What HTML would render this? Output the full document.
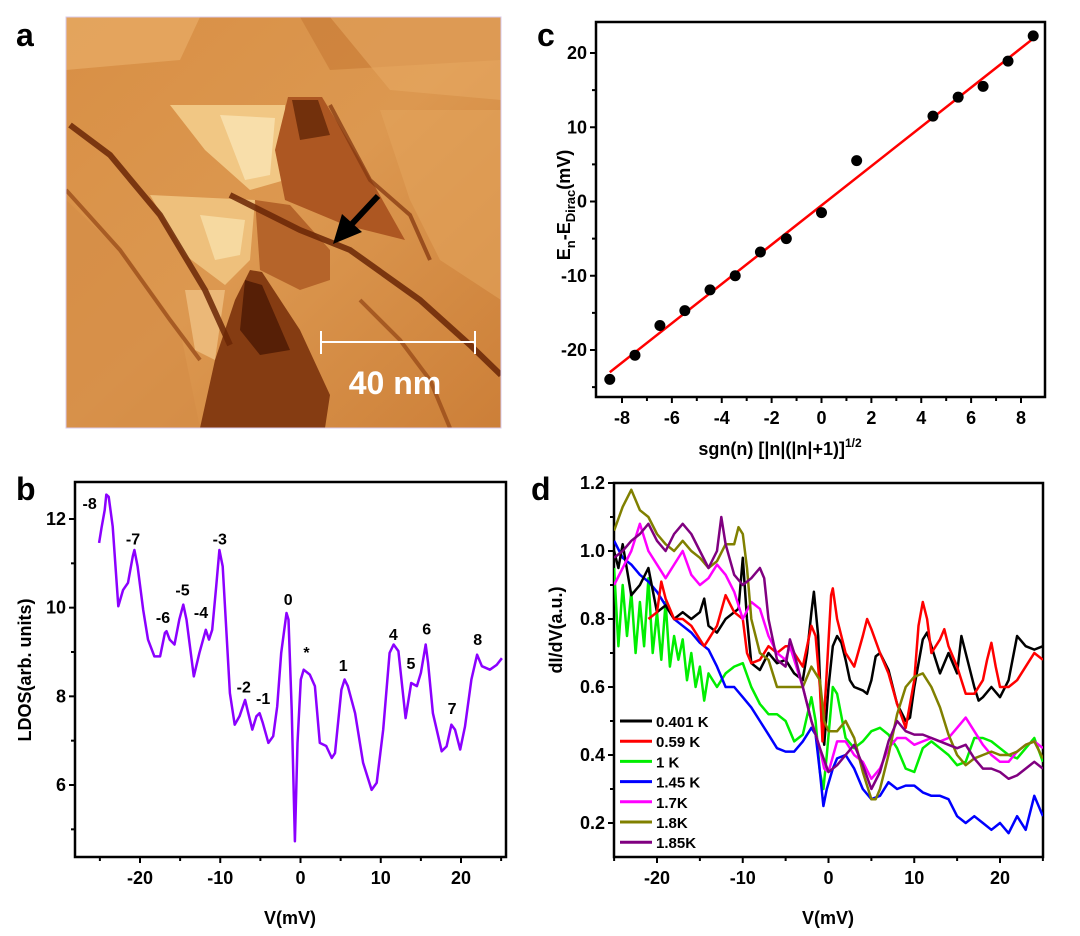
<!DOCTYPE html>
<html><head><meta charset="utf-8">
<style>
html,body{margin:0;padding:0;background:#fff;}
svg{display:block;font-family:"Liberation Sans",Arial,sans-serif;font-weight:bold;}
</style></head>
<body>
<svg id="fig" width="1080" height="936" viewBox="0 0 1080 936" xmlns="http://www.w3.org/2000/svg">
  <defs>
    <linearGradient id="stmBase" x1="0" y1="0" x2="1" y2="1">
      <stop offset="0" stop-color="#d88f45"/>
      <stop offset="0.5" stop-color="#dc9850"/>
      <stop offset="1" stop-color="#cc7f38"/>
    </linearGradient>
    <clipPath id="clipA"><rect x="66" y="17" width="435" height="411"/></clipPath>
  </defs>
  <!-- panel letters -->
  <text x="16" y="46" font-size="32">a</text>
  <text x="16" y="500" font-size="32">b</text>
  <text x="537" y="46" font-size="32">c</text>
  <text x="531" y="500" font-size="32">d</text>

  <!-- panel a: STM image -->
  <g id="panelA" clip-path="url(#clipA)">
    <rect x="66" y="17" width="435" height="411" fill="url(#stmBase)"/>
    <polygon points="66,17 200,17 180,60 66,70" fill="#e8ac66" opacity="0.7"/>
    <polygon points="300,17 501,17 501,60 330,70" fill="#c77a35" opacity="0.6"/>
    <polygon points="330,17 501,17 501,100 390,90" fill="#e6a862" opacity="0.6"/>
    <polygon points="380,110 501,110 501,300 440,260 410,200" fill="#e3a35c" opacity="0.6"/>
    <polygon points="66,200 130,260 180,330 200,428 66,428" fill="#d38c46" opacity="0.6"/>
    <polygon points="170,105 285,105 285,180 250,190 205,150" fill="#f1c784"/>
    <polygon points="220,115 275,118 270,175 245,180" fill="#f8deaa"/>
    <polygon points="150,195 255,200 250,260 225,285 185,255" fill="#eec07c"/>
    <polygon points="200,215 245,220 240,255 215,260" fill="#f6d9a0"/>
    <polygon points="185,290 225,290 215,360 195,350" fill="#ebb878"/>
    <polygon points="288,97 322,97 360,160 405,240 345,225 285,200 275,150" fill="#ad5722"/>
    <polygon points="292,100 318,100 330,135 300,140" fill="#72300c"/>
    <polygon points="255,200 290,205 330,250 330,280 300,290 260,270" fill="#b5642a"/>
    <polygon points="250,270 262,272 300,330 330,395 325,428 200,428 215,360 235,300" fill="#853c12"/>
    <polygon points="245,280 262,285 290,350 260,355 240,330" fill="#561f06"/>
    <polyline points="70,125 110,155 160,215 205,290 230,345" fill="none" stroke="#6a2606" stroke-width="6" opacity="0.85"/>
    <polyline points="66,190 120,250 170,320 200,360" fill="none" stroke="#934414" stroke-width="4" opacity="0.7"/>
    <polyline points="230,195 300,230 350,250 420,300 470,345 501,375" fill="none" stroke="#6a2606" stroke-width="6" opacity="0.85"/>
    <polyline points="330,105 370,180 410,215 430,260" fill="none" stroke="#853810" stroke-width="4" opacity="0.75"/>
    <polyline points="360,300 400,340 430,380 450,428" fill="none" stroke="#934414" stroke-width="4" opacity="0.7"/>
    <!-- arrow -->
    <line x1="378" y1="196" x2="350" y2="226" stroke="#000" stroke-width="6"/>
    <polygon points="333,244 342,214 362,232" fill="#000"/>
    <!-- scale bar -->
    <line x1="321" y1="342" x2="475" y2="342" stroke="#fff" stroke-width="2"/>
    <line x1="321" y1="331" x2="321" y2="354" stroke="#fff" stroke-width="2"/>
    <line x1="475" y1="331" x2="475" y2="354" stroke="#fff" stroke-width="2"/>
    <text x="395" y="394" font-size="32" fill="#fff" text-anchor="middle">40 nm</text>
  </g>
  <rect x="66" y="17" width="435" height="411" fill="none" stroke="#d8c8e8" stroke-width="1"/>

  <g id="panelB"></g>
  <g id="panelC"></g>
  <g id="panelD"></g>
</svg>

<script>
// ===== Panel b data =====
const ldosV = [-25.1,-24.8,-24.4,-24.2,-23.9,-23.4,-22.7,-22.1,-21.5,-20.9,-20.7,-20.3,-19.6,-19.0,-18.2,-17.5,-16.9,-16.7,-16.3,-15.7,-15.1,-14.6,-14.2,-13.3,-12.6,-11.8,-11.4,-11.0,-10.5,-10.1,-9.7,-8.8,-8.2,-7.6,-6.9,-6.5,-6.0,-5.5,-5.1,-4.7,-4.0,-3.4,-2.9,-2.4,-1.75,-1.5,-1.1,-0.7,-0.37,0.04,0.4,1.16,1.8,2.4,3.2,3.9,4.3,5.1,5.5,5.9,6.8,7.8,8.86,9.5,10.3,11.1,11.6,12.2,13.1,13.8,14.5,15.0,15.6,15.9,16.5,17.6,18.2,18.8,19.25,19.9,20.5,21.3,22.0,22.6,23.6,24.45,25.1];
const ldosVal = [11.46,11.8,12.2,12.55,12.5,11.83,10.03,10.4,10.56,11.16,11.3,10.93,9.95,9.28,8.9,8.9,9.43,9.47,9.28,9.17,9.73,10.07,9.73,8.45,8.98,9.5,9.28,9.5,10.48,11.3,10.93,8.07,7.36,7.55,7.92,7.62,7.25,7.55,7.62,7.4,6.95,7.1,7.77,8.98,9.88,9.73,7.7,4.73,6.95,8.38,8.6,8.49,8.23,6.95,6.88,6.61,6.72,8.15,8.38,8.23,7.62,6.5,5.89,6.05,7.25,8.98,9.17,9.02,7.51,8.3,8.23,8.53,9.17,8.75,7.62,6.76,6.87,7.36,7.25,6.8,7.32,8.38,8.94,8.68,8.6,8.71,8.86];
const peakLabels = ["-8","-7","-6","-5","-4","-3","0","*","-2","-1","1","4","5","6","7","8"];
const peakLabelV = [-26.28,-20.87,-17.13,-14.7,-12.4,-10.06,-1.54,0.75,-7.07,-4.66,5.32,11.56,13.76,15.72,18.89,22.08];
const peakLabelL = [12.36,11.56,9.79,10.41,9.9,11.56,10.2,9.0,8.22,7.96,8.71,9.41,8.75,9.53,7.74,9.29];
const bXTicks = [-20,-10,0,10,20];
const bXMinor = [-25,-15,-5,5,15,25];
const bYTicks = [6,8,10,12];
const bYMinor = [5,7,9,11];

// ===== Panel c data =====
const llX = [-8.49,-7.48,-6.48,-5.48,-4.47,-3.46,-2.45,-1.41,0,1.41,4.47,5.48,6.48,7.48,8.49];
const llE = [-23.95,-20.7,-16.7,-14.7,-11.9,-10.0,-6.8,-5.0,-1.5,5.5,11.5,14.05,15.5,18.9,22.3];
const cXTicks = [-8,-6,-4,-2,0,2,4,6,8];
const cXMinor = [-7,-5,-3,-1,1,3,5,7];
const cYTicks = [-20,-10,0,10,20];
const cYMinor = [-25,-15,-5,5,15];

// ===== Panel d data =====
const dNames = ["0.401 K","0.59 K","1 K","1.45 K","1.7K","1.8K","1.85K"];
const dColors = ["#000000","#ff0000","#00ee00","#0000ff","#ff00ff","#808000","#800080"];
const blackV = [-25,-24.5,-24,-23,-22,-21,-20,-19,-18,-17,-16,-15,-14.5,-14,-13,-12,-11,-10.5,-10,-9.5,-9,-8,-7,-6,-5,-4,-3,-2.5,-2,-1.7,-1.2,-0.8,-0.5,0,0.5,1,1.5,2,2.5,3,4,4.5,5,5.5,6,7,8,9,9.5,10,11,11.5,12,13,14,15,15.5,16,17,17.5,18,19,20,21,22,23,24,25];
const blackY = [1.0,0.95,1.02,0.87,0.9,0.95,0.82,0.84,0.8,0.82,0.8,0.82,0.86,0.78,0.76,0.8,0.82,0.83,0.98,0.8,0.67,0.65,0.7,0.67,0.68,0.64,0.62,0.7,0.82,0.88,0.75,0.5,0.43,0.6,0.72,0.75,0.73,0.68,0.62,0.6,0.59,0.58,0.62,0.69,0.7,0.65,0.55,0.5,0.51,0.6,0.74,0.76,0.72,0.64,0.7,0.64,0.75,0.7,0.6,0.56,0.57,0.6,0.57,0.62,0.75,0.72,0.71,0.72];
const redV = [-21,-20,-19.5,-19,-18,-17,-16,-15,-14.5,-14,-13,-12,-11,-10,-9.5,-9,-8,-7,-6,-5,-4.5,-4,-3,-2.5,-2,-1.5,-1,-0.7,-0.3,0.3,0.5,1,2,3,4,4.5,5,6,7,8,9,10,10.5,11,11.5,12,13,13.5,14,15,16,17,18,18.5,19,19.5,20,21,22,23,24,25];
const redY = [0.8,0.82,0.91,0.86,0.8,0.8,0.78,0.74,0.72,0.74,0.78,0.87,0.82,0.8,0.7,0.67,0.68,0.72,0.7,0.72,0.72,0.7,0.66,0.72,0.78,0.75,0.6,0.44,0.6,0.87,0.89,0.8,0.7,0.66,0.75,0.8,0.77,0.7,0.64,0.55,0.48,0.62,0.78,0.85,0.8,0.7,0.74,0.77,0.72,0.66,0.58,0.58,0.62,0.68,0.73,0.66,0.6,0.6,0.62,0.66,0.7,0.68];
const greenV = [-25,-24.5,-24,-23.5,-23,-22.5,-22,-21.5,-21,-20.5,-20,-19.5,-19,-18.5,-18,-17.5,-17,-16.5,-16,-15.5,-15,-14.5,-14,-13,-12,-11,-10,-9,-8,-7,-6,-5,-4,-3,-2,-1.5,-1,-0.6,-0.2,0.5,1,2,3,4,5,6,7,8,9,10,11,12,13,14,15,16,17,18,19,20,21,22,23,24,25];
const greenY = [0.95,0.72,0.9,0.75,0.88,0.7,0.85,0.72,0.92,0.7,0.82,0.68,0.85,0.66,0.75,0.68,0.74,0.62,0.7,0.6,0.66,0.56,0.64,0.6,0.64,0.66,0.67,0.6,0.55,0.52,0.52,0.5,0.44,0.46,0.57,0.5,0.35,0.3,0.4,0.6,0.58,0.45,0.42,0.44,0.47,0.48,0.46,0.42,0.36,0.35,0.42,0.44,0.42,0.4,0.37,0.38,0.45,0.45,0.44,0.42,0.4,0.39,0.42,0.45,0.38];
const blueV = [-25,-24,-23,-22,-21,-20,-19,-18,-17,-16,-15,-14,-13,-12,-11,-10,-9,-8,-7,-6,-5,-4,-3,-2,-1.5,-1,-0.6,-0.2,0.5,1,2,3,4,5,6,7,8,9,10,11,12,13,14,15,16,17,18,19,20,21,22,23,24,25];
const blueY = [1.03,0.98,0.96,0.93,0.91,0.88,0.84,0.8,0.78,0.76,0.73,0.71,0.66,0.6,0.6,0.57,0.54,0.5,0.46,0.42,0.41,0.41,0.44,0.48,0.46,0.35,0.25,0.3,0.36,0.39,0.4,0.36,0.3,0.27,0.28,0.32,0.3,0.31,0.31,0.29,0.28,0.28,0.27,0.22,0.2,0.22,0.2,0.18,0.2,0.17,0.22,0.18,0.28,0.22];
const magentaV = [-25,-24,-23,-22,-21,-20,-19,-18,-17,-16,-15,-14,-13,-12,-11,-10,-9,-8,-7,-6,-5,-4.5,-4,-3,-2,-1,-0.5,0,1,2,3,4,5,6,7,8,9,10,11,12,13,14,15,16,17,18,19,20,21,22,23,24,25];
const magentaY = [0.9,0.95,1.0,1.08,1.0,0.96,0.92,0.96,1.0,0.93,0.9,0.92,0.96,0.93,0.88,0.8,0.85,0.83,0.75,0.7,0.68,0.72,0.68,0.6,0.5,0.42,0.36,0.35,0.44,0.44,0.4,0.38,0.33,0.36,0.42,0.45,0.45,0.43,0.44,0.45,0.44,0.45,0.48,0.51,0.47,0.43,0.4,0.38,0.38,0.41,0.43,0.44,0.42];
const oliveV = [-25,-24,-23,-22,-21,-20,-19,-18,-17,-16,-15,-14,-13,-12,-11,-10.5,-10,-9.5,-9,-8,-7,-6,-5,-4,-3,-2,-1,-0.5,0,1,2,3,4,5,5.5,6,7,8,9,10,11,12,13,14,15,16,17,18,19,20,21,22,23,24,25];
const oliveY = [1.06,1.13,1.18,1.12,1.1,1.05,1.02,1.0,1.03,1.0,0.98,0.95,0.97,1.02,1.02,1.07,1.05,0.95,0.8,0.7,0.68,0.6,0.6,0.6,0.6,0.66,0.62,0.5,0.47,0.47,0.5,0.45,0.35,0.27,0.27,0.3,0.4,0.52,0.6,0.63,0.64,0.6,0.54,0.46,0.4,0.37,0.39,0.4,0.41,0.4,0.4,0.41,0.43,0.44,0.39];
const purpleV = [-25,-24,-23,-22,-21,-20,-19,-18,-17,-16,-15,-14,-13,-12.5,-12,-11,-10,-9,-8,-7.5,-7,-6,-5,-4.5,-4,-3,-2,-1,0,1,2,3,4,5,6,7,8,9,10,11,12,13,14,15,16,17,18,19,20,21,22,23,24,25];
const purpleY = [0.98,1.0,1.03,1.05,1.08,1.03,1.0,1.05,1.08,1.05,1.0,0.95,1.0,1.1,1.02,0.93,0.9,0.92,0.95,0.92,0.8,0.68,0.66,0.74,0.7,0.6,0.5,0.42,0.35,0.37,0.4,0.43,0.37,0.3,0.35,0.44,0.5,0.47,0.46,0.46,0.45,0.44,0.43,0.42,0.43,0.39,0.36,0.36,0.35,0.33,0.34,0.36,0.38,0.36];
const dXTicks = [-20,-10,0,10,20];
const dXMinor = [-25,-15,-5,5,15,25];
const dYTicks = [0.2,0.4,0.6,0.8,1.0,1.2];
const dYMinor = [0.3,0.5,0.7,0.9,1.1];

const NS = "http://www.w3.org/2000/svg";
function mk(parent, tag, attrs) {
  const e = document.createElementNS(NS, tag);
  for (const k in attrs) e.setAttribute(k, attrs[k]);
  parent.appendChild(e);
  return e;
}
function lin(d0, d1, p0, p1) { return v => p0 + (v - d0) * (p1 - p0) / (d1 - d0); }

function axes(g, box, sx, sy, xt, xm, yt, ym, xfmt, yfmt, name) {
  const frame = mk(g, "rect", {x: box.x0, y: box.y0, width: box.x1 - box.x0, height: box.y1 - box.y0, fill: "none", stroke: "#000", "stroke-width": 2.5});
  
  
  xt.forEach(v => {
    mk(g, "line", {x1: sx(v), x2: sx(v), y1: box.y1, y2: box.y1 + 6, stroke: "#000", "stroke-width": 2});
    const t = mk(g, "text", {x: sx(v), y: box.y1 + 27, "font-size": 18, "text-anchor": "middle"});
    t.textContent = xfmt(v);
    
    
  });
  xm.forEach(v => mk(g, "line", {x1: sx(v), x2: sx(v), y1: box.y1, y2: box.y1 + 4, stroke: "#000", "stroke-width": 2}));
  yt.forEach(v => {
    mk(g, "line", {x1: box.x0 - 6, x2: box.x0, y1: sy(v), y2: sy(v), stroke: "#000", "stroke-width": 2});
    const t = mk(g, "text", {x: box.x0 - 9, y: sy(v) + 6, "font-size": 18, "text-anchor": "end"});
    t.textContent = yfmt(v);
    
    
  });
  ym.forEach(v => mk(g, "line", {x1: box.x0 - 4, x2: box.x0, y1: sy(v), y2: sy(v), stroke: "#000", "stroke-width": 2}));
}
function path(xs, ys, sx, sy) {
  return xs.map((x, i) => (i ? "L" : "M") + sx(x).toFixed(1) + "," + sy(ys[i]).toFixed(1)).join(" ");
}

// ----- Panel b -----
(function () {
  const g = document.getElementById("panelB");
  const box = {x0: 75, x1: 506, y0: 482, y1: 857};
  const sx = lin(-20, 20, 140, 461), sy = lin(12, 6, 519, 785);
  axes(g, box, sx, sy, bXTicks, bXMinor, bYTicks, bYMinor, v => String(v), v => String(v), "ldos");
  const p = mk(g, "path", {d: path(ldosV, ldosVal, sx, sy), fill: "none", stroke: "#8b00ff", "stroke-width": 2.5, "stroke-linejoin": "round"});
  
  
  peakLabels.forEach((s, i) => {
    const t = mk(g, "text", {x: sx(peakLabelV[i]), y: sy(peakLabelL[i]) + 6, "font-size": 16, "text-anchor": "middle"});
    t.textContent = s;
    
    
  });
  const xl = mk(g, "text", {x: 290, y: 924, "font-size": 18, "text-anchor": "middle"});
  xl.textContent = "V(mV)";
  
  
  const yl = mk(g, "text", {x: 0, y: 0, "font-size": 18, "text-anchor": "middle", transform: "translate(31,670) rotate(-90)"});
  yl.textContent = "LDOS(arb. units)";
  
  
})();

// ----- Panel c -----
(function () {
  const g = document.getElementById("panelC");
  const box = {x0: 596, x1: 1045, y0: 22, y1: 397};
  const sx = lin(-8, 8, 622, 1021), sy = lin(20, -20, 53, 350);
  axes(g, box, sx, sy, cXTicks, cXMinor, cYTicks, cYMinor, v => String(v), v => String(v), "fit");
  const n = llX.length;
  const mx = llX.reduce((a, b) => a + b) / n, my = llE.reduce((a, b) => a + b) / n;
  let num = 0, den = 0;
  llX.forEach((x, i) => { num += (x - mx) * (llE[i] - my); den += (x - mx) * (x - mx); });
  const slope = num / den, icpt = my - slope * mx;
  const x0 = llX[0], x1 = llX[n - 1];
  const fl = mk(g, "line", {x1: sx(x0), y1: sy(slope * x0 + icpt), x2: sx(x1), y2: sy(slope * x1 + icpt), stroke: "#ff0000", "stroke-width": 2.5});
  
  
  llX.forEach((x, i) => {
    const c = mk(g, "circle", {cx: sx(x), cy: sy(llE[i]), r: 5.5, fill: "#000"});
    
    
  });
  const xl = mk(g, "text", {x: 780, y: 455, "font-size": 18, "text-anchor": "middle"});
  xl.innerHTML = 'sgn(n) [|n|(|n|+1)]<tspan dy="-8" font-size="12">1/2</tspan>';
  
  
  const yl = mk(g, "text", {x: 0, y: 0, "font-size": 18, "text-anchor": "middle", transform: "translate(570,205) rotate(-90)"});
  yl.innerHTML = 'E<tspan dy="5" font-size="13">n</tspan><tspan dy="-5">-E</tspan><tspan dy="5" font-size="13">Dirac</tspan><tspan dy="-5">(mV)</tspan>';
  
  
})();

// ----- Panel d -----
(function () {
  const g = document.getElementById("panelD");
  const box = {x0: 614, x1: 1043, y0: 483, y1: 857};
  const sx = lin(-20, 20, 657, 1000), sy = lin(1.2, 0.2, 483, 823);
  axes(g, box, sx, sy, dXTicks, dXMinor, dYTicks, dYMinor, v => String(v), v => v.toFixed(1), "didv");
  const seriesV = [blackV, redV, greenV, blueV, magentaV, oliveV, purpleV];
  const seriesY = [blackY, redY, greenY, blueY, magentaY, oliveY, purpleY];
  const defs = document.querySelector("defs");
  const cp = mk(defs, "clipPath", {id: "clipD"});
  mk(cp, "rect", {x: box.x0, y: box.y0, width: box.x1 - box.x0, height: box.y1 - box.y0});
  const cg = mk(g, "g", {"clip-path": "url(#clipD)"});
  const order = [2, 3, 0, 1, 4, 5, 6];
  order.forEach(i => {
    const p = mk(cg, "path", {d: path(seriesV[i], seriesY[i], sx, sy), fill: "none", stroke: dColors[i], "stroke-width": 2.5, "stroke-linejoin": "round"});
    
    
  });
  dNames.forEach((s, i) => {
    const y = 721 + i * 20.2;
    const l = mk(g, "line", {x1: 620, x2: 652, y1: y, y2: y, stroke: dColors[i], "stroke-width": 3});
    
    
    const t = mk(g, "text", {x: 656, y: y + 6, "font-size": 15});
    t.textContent = s;
    
    
  });
  const xl = mk(g, "text", {x: 828, y: 924, "font-size": 18, "text-anchor": "middle"});
  xl.textContent = "V(mV)";
  
  
  const yl = mk(g, "text", {x: 0, y: 0, "font-size": 18, "text-anchor": "middle", transform: "translate(562,630) rotate(-90)"});
  yl.textContent = "dI/dV(a.u.)";
  
  
})();
</script>
</body></html>
